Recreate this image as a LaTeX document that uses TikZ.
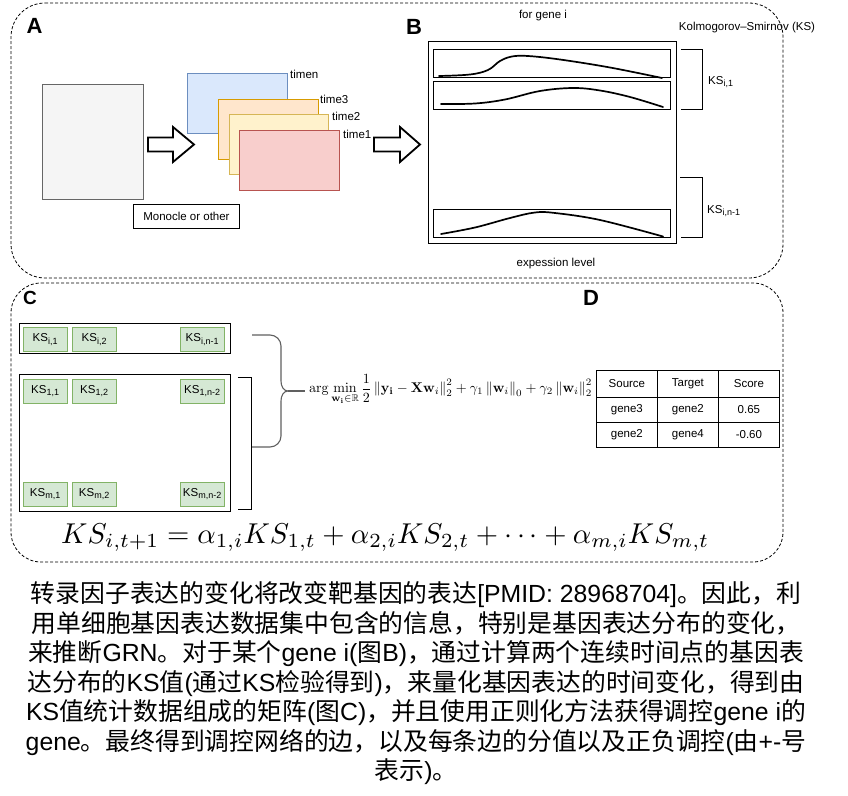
\documentclass[tikz,border=0pt]{standalone}
\usepackage{amsmath,amssymb}
\usepackage[no-math]{fontspec}
\setmainfont{Liberation Sans}
\newfontfamily\zh{Noto Sans CJK SC}
\usetikzlibrary{calc}
\definecolor{grayf}{HTML}{F5F5F5}\definecolor{grayd}{HTML}{666666}
\definecolor{bluef}{HTML}{DAE8FC}\definecolor{blued}{HTML}{6C8EBF}
\definecolor{orangef}{HTML}{FFE6CC}\definecolor{oranged}{HTML}{D79B00}
\definecolor{yellowf}{HTML}{FFF2CC}\definecolor{yellowd}{HTML}{D6B656}
\definecolor{redf}{HTML}{F8CECC}\definecolor{redd}{HTML}{B85450}
\definecolor{greenf}{HTML}{D5E8D4}\definecolor{greend}{HTML}{82B366}
\definecolor{bracegray}{HTML}{606060}
\newcommand\smallfs{\fontsize{11.5}{13}\selectfont}
\newcommand\parafs{\fontsize{24.8}{29.5}\selectfont}
\newcommand\ksub[1]{\textsubscript{\fontsize{9}{10}\selectfont #1}}
\begin{document}
\begin{tikzpicture}[x=1pt,y=-1pt,
  panel/.style={draw, dash pattern=on 3pt off 2pt, line width=0.8pt},
  lab/.style={font=\smallfs, inner sep=0pt},
  letter/.style={font=\fontsize{22}{24}\selectfont\bfseries, inner sep=0pt},
  rbox/.style={draw, line width=0.9pt, inner sep=0pt, anchor=north west},
  ks/.style={draw=greend, fill=greenf, line width=0.8pt, minimum width=44pt, minimum height=24pt, inner sep=0pt, anchor=north west, font=\smallfs},
  barrow/.style={draw, line width=1.8pt, fill=white, line join=miter},
  curve/.style={line width=1.7pt, line cap=round},
  brk/.style={draw, line width=0.9pt},
  cell/.style={draw, line width=0.8pt, minimum width=61pt, inner sep=0pt, anchor=north west, font=\smallfs},
  para/.style={font=\parafs, inner sep=0pt, anchor=base}
]
\useasboundingbox (0,0) rectangle (848,795);
\fill[white] (0,0) rectangle (848,795);

% ---------- panels ----------
\draw[panel, rounded corners=34pt] (11,3) -- (783,3) -- (783,278) -- (11,278) -- cycle;
\draw[panel, rounded corners=30pt] (11,283) -- (783,283) -- (783,562) -- (11,562) -- cycle;

\node[letter] (A) at (34.5,26) {A};
\node[letter] (B) at (414,27) {B};
\node[font=\fontsize{19}{21}\selectfont\bfseries, inner sep=0pt] (C) at (30,298) {C};
\node[letter] (D) at (591,298) {D};

% ---------- panel A ----------
\node[rbox, draw=grayd, fill=grayf, minimum width=101pt, minimum height=115pt] (cells) at (42,84) {};
\node[rbox, draw=blued, fill=bluef, minimum width=100pt, minimum height=60pt] (tn) at (187,73) {};
\node[rbox, draw=oranged, fill=orangef, minimum width=100pt, minimum height=60pt] (t3) at (218,99) {};
\node[rbox, draw=yellowd, fill=yellowf, minimum width=99pt, minimum height=60pt] (t2) at (229,114) {};
\node[rbox, draw=redd, fill=redf, minimum width=100pt, minimum height=60pt] (t1) at (239,130) {};
\node[lab, anchor=west] (ltn) at (290,74) {timen};
\node[lab, anchor=west] (lt3) at (320,99.5) {time3};
\node[lab, anchor=west] (lt2) at (332,116) {time2};
\node[lab, anchor=west] (lt1) at (343,134) {time1};
\node[rbox, line width=0.9pt, minimum width=106pt, minimum height=24pt, font=\smallfs] (mono) at (133,204) {Monocle or other};

\path[barrow] (148,137.5) -- (173,137.5) -- (173,127) -- (194,144.5) -- (173,162) -- (173,151.5) -- (148,151.5) -- cycle;
\path[barrow] (374,137.5) -- (400,137.5) -- (400,127) -- (420,144.5) -- (400,162) -- (400,151.5) -- (374,151.5) -- cycle;

% ---------- panel B ----------
\node[lab] (forgene) at (543,16) {for gene i};
\node[lab] (kstitle) at (747,27.5) {Kolmogorov–Smirnov (KS)};
\node[lab] (expr) at (556,264) {expession level};
\node[rbox, minimum width=248pt, minimum height=202pt] (bigB) at (428,41) {};
\node[rbox, minimum width=237pt, minimum height=28pt] (b1) at (433,49) {};
\node[rbox, minimum width=237pt, minimum height=28pt] (b2) at (433,81) {};
\node[rbox, minimum width=237pt, minimum height=28.5pt] (b3) at (433,208.5) {};

\draw[curve] plot[smooth, tension=0.6] coordinates {(439,76) (470,74.5) (488,70) (500,61) (512,56.5) (528,56) (560,59.5) (610,67.5) (662,78)};
\draw[curve] plot[smooth, tension=0.6] coordinates {(441,104) (475,103.5) (505,99.5) (540,91) (573,88) (600,90.5) (630,97) (663,107)};
\draw[curve] plot[smooth, tension=0.6] coordinates {(441,234) (475,227.5) (510,218) (535,212.5) (555,213) (600,220) (663,236.5)};

\coordinate (k1a) at ($(b1.north east)+(10,0)$);
\coordinate (k1b) at ($(b2.south east)+(10,0)$);
\draw[brk] (k1a) -- ++(22,0) |- (k1b);
\coordinate (k2a) at (680,177);
\coordinate (k2b) at ($(b3.south east)+(10,0)$);
\draw[brk] (k2a) -- ++(22,0) |- (k2b);
\node[lab, anchor=west] (ks1) at (708,82) {KS\ksub{i,1}};
\node[lab, anchor=west] (ks2) at (707,211) {KS\ksub{i,n-1}};

% ---------- panel C ----------
\node[rbox, minimum width=211pt, minimum height=30pt] (rowi) at (19,323) {};
\node[rbox, minimum width=211pt, minimum height=137pt] (mat) at (19,374) {};
\node[ks] (c11) at (23,327) {KS\ksub{i,1}};
\node[ks] (c12) at (72,327) {KS\ksub{i,2}};
\node[ks] (c13) at (180,327) {KS\ksub{i,n-1}};
\node[ks] (d11) at (23,379) {KS\ksub{1,1}};
\node[ks] (d12) at (72,379) {KS\ksub{1,2}};
\node[ks] (d13) at (180,379) {KS\ksub{1,n-2}};
\node[ks] (dm1) at (23,481.5) {KS\ksub{m,1}};
\node[ks] (dm2) at (72,481.5) {KS\ksub{m,2}};
\node[ks] (dm3) at (180,481.5) {KS\ksub{m,n-2}};

\coordinate (mb1) at ($(mat.north east)+(7,3)$);
\coordinate (mb2) at ($(mat.south east)+(7,-2)$);
\draw[brk] (mb1) -- ++(14,0) |- (mb2);

\node[inner sep=0pt, anchor=base west] (obj) at (309,392.5) {\resizebox{283pt}{!}{$\displaystyle \arg\min_{\mathbf{w_i}\in\mathbb{R}} \frac{1}{2}\left\|\mathbf{y_i}-\mathbf{X}\mathbf{w}_i\right\|_2^2 + \gamma_1\left\|\mathbf{w}_i\right\|_0 + \gamma_2\left\|\mathbf{w}_i\right\|_2^2$}};

\coordinate (brtop) at (252,335);
\coordinate (brbot) at (252,447);
\coordinate (brtip) at (288,391);
\draw[bracegray, line width=1.1pt] (brtop) -- (270,335) to[out=0,in=90] (281,346) -- (281,381) to[out=-90,in=180] (brtip)
  to[out=180,in=90] (281,401) -- (281,436) to[out=-90,in=0] (270,447) -- (brbot);
\draw[bracegray, line width=1.1pt] (brtip) -- ($(obj.west |- brtip)+(-4,0)$);

% ---------- table D ----------
\node[cell, minimum height=27pt] (h1) at (596,370) {Source};
\node[cell, minimum height=27pt] (h2) at (657,370) {Target};
\node[cell, minimum height=27pt] (h3) at (718,370) {Score};
\node[cell, minimum height=25pt] (r11) at (596,397) {gene3};
\node[cell, minimum height=25pt] (r12) at (657,397) {gene2};
\node[cell, minimum height=25pt] (r13) at (718,397) {0.65};
\node[cell, minimum height=25pt] (r21) at (596,422) {gene2};
\node[cell, minimum height=25pt] (r22) at (657,422) {gene4};
\node[cell, minimum height=25pt] (r23) at (718,422) {-0.60};

% ---------- bottom equation ----------
\node[inner sep=0pt, anchor=base west] (eq) at (61,543) {\resizebox{648pt}{!}{$KS_{i,t+1} = \alpha_{1,i}KS_{1,t} + \alpha_{2,i}KS_{2,t} + \cdots + \alpha_{m,i}KS_{m,t}$}};

% ---------- paragraph ----------
\node[para] (p1) at (416,602.5) {{\zh 转录因子表达的变化将改变靶基因的表达}[PMID: 28968704]{\zh 。因此，利}};
\node[para] (p2) at (416,632) {{\zh 用单细胞基因表达数据集中包含的信息，特别是基因表达分布的变化，}};
\node[para] (p3) at (416,661.5) {{\zh 来推断}GRN{\zh 。对于某个}gene i({\zh 图}B){\zh ，通过计算两个连续时间点的基因表}};
\node[para] (p4) at (416,691) {{\zh 达分布的}KS{\zh 值}({\zh 通过}KS{\zh 检验得到}){\zh ，来量化基因表达的时间变化，得到由}};
\node[para] (p5) at (416,720.5) {KS{\zh 值统计数据组成的矩阵}({\zh 图}C){\zh ，并且使用正则化方法获得调控}gene i{\zh 的}};
\node[para] (p6) at (416,750) {gene{\zh 。最终得到调控网络的边，以及每条边的分值以及正负调控}({\zh 由}+-{\zh 号}};
\node[para] (p7) at (416,779.5) {{\zh 表示})\zh{。}};
\end{tikzpicture}
\end{document}
